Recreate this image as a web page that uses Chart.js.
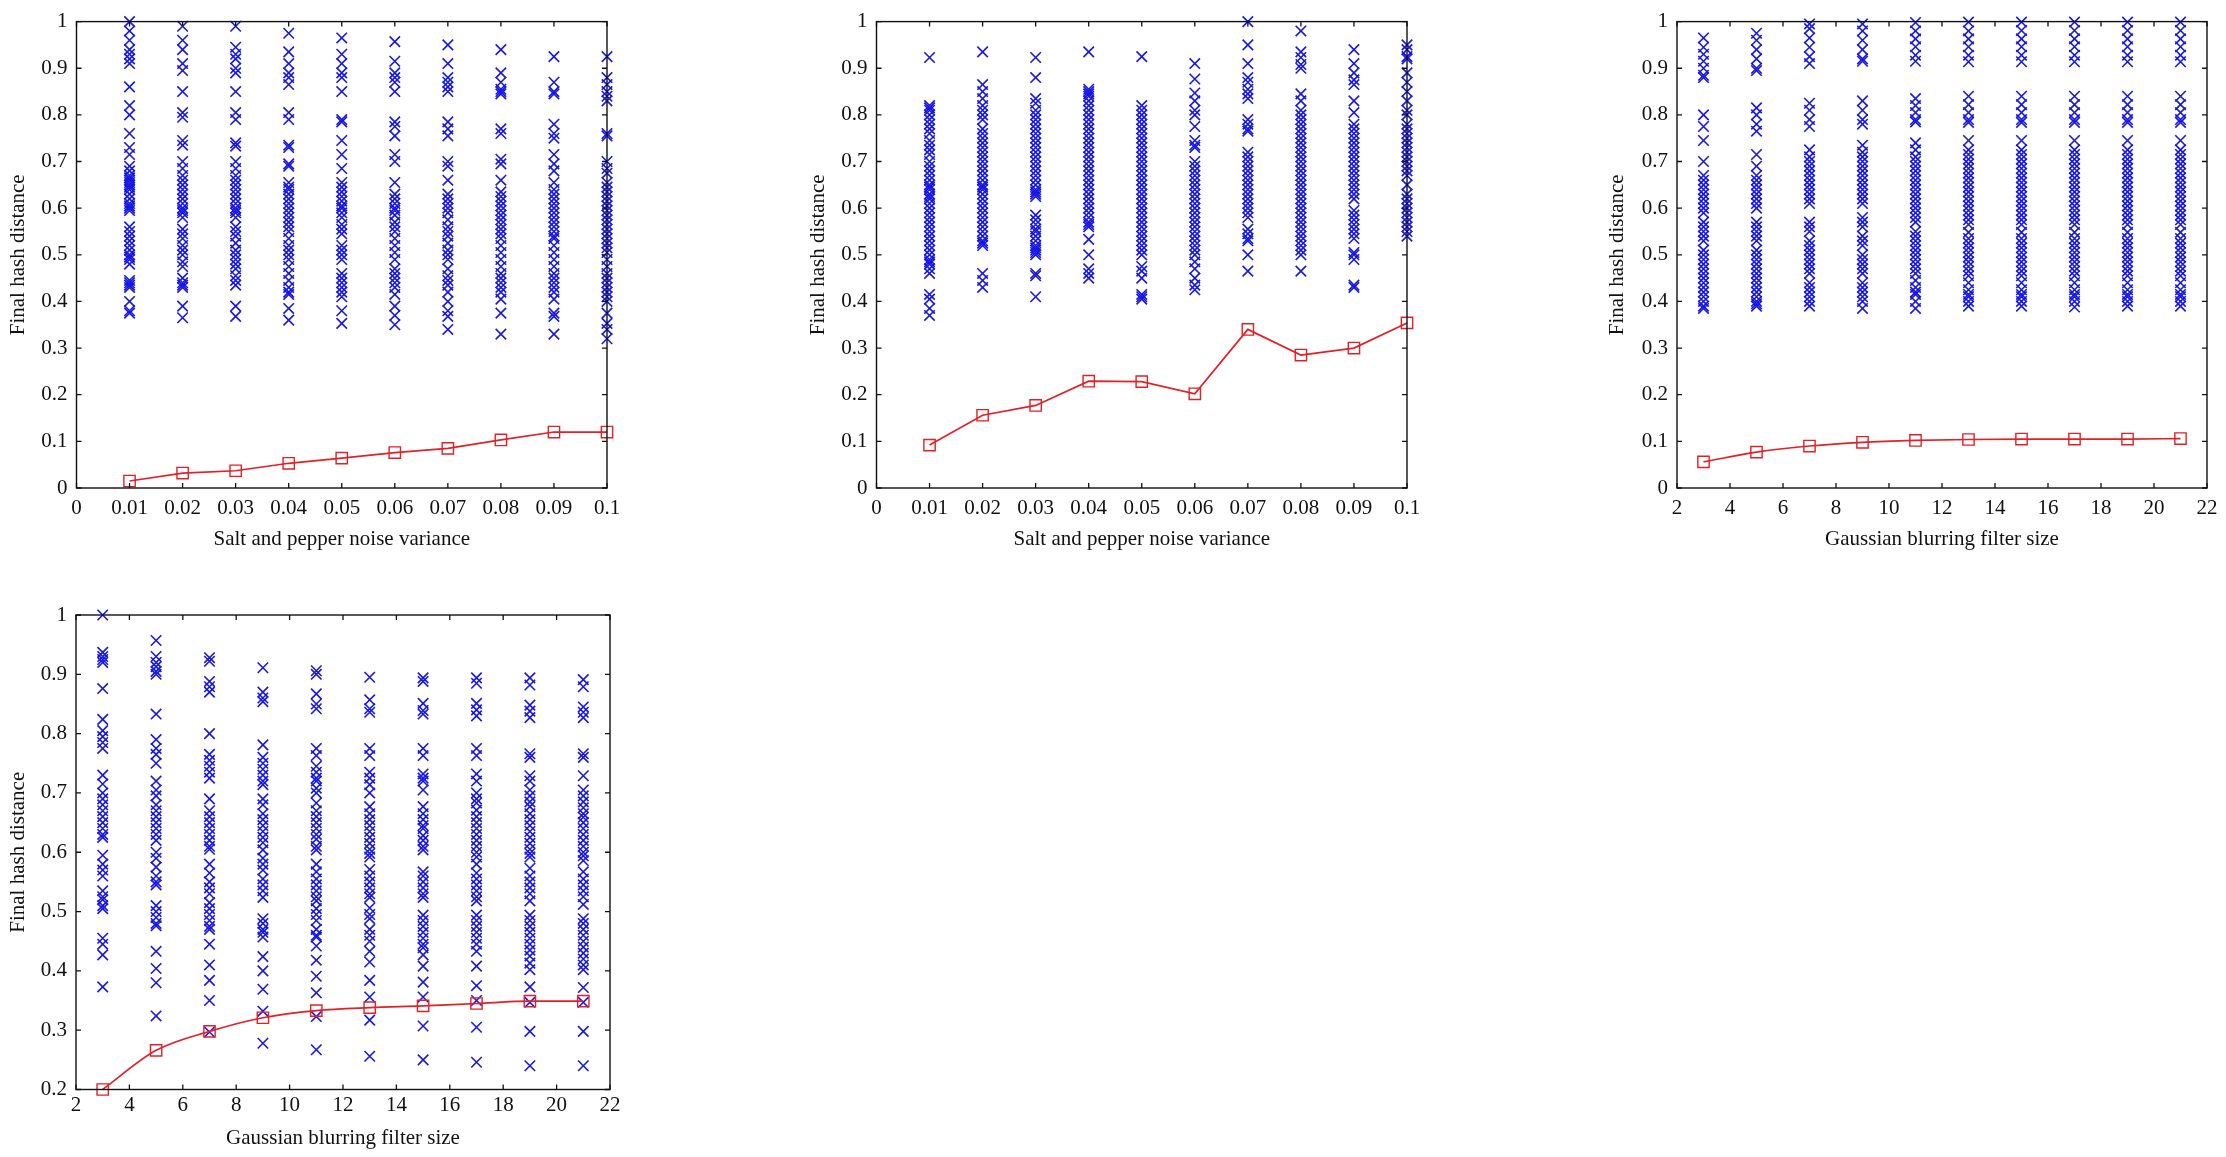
<!DOCTYPE html>
<html><head><meta charset="utf-8">
<script src="https://cdn.jsdelivr.net/npm/chart.js@4.4.1/dist/chart.umd.min.js"></script>
<style>
html,body{margin:0;padding:0;background:#fff;width:2226px;height:1157px;overflow:hidden;}
canvas{position:absolute;}
</style></head><body>
<canvas id="c1" width="640" height="575" style="left:0px;top:0px"></canvas>
<canvas id="c2" width="640" height="575" style="left:800px;top:0px"></canvas>
<canvas id="c3" width="636" height="575" style="left:1590px;top:0px"></canvas>
<canvas id="c4" width="640" height="567" style="left:0px;top:590px"></canvas>
<script>
// ---------- categories / tick labels ----------
const xNoise = [0.01,0.02,0.03,0.04,0.05,0.06,0.07,0.08,0.09,0.1];
const xBlur = [3,5,7,9,11,13,15,17,19,21];
const xNoiseTickVals = [0,0.01,0.02,0.03,0.04,0.05,0.06,0.07,0.08,0.09,0.1];
const xNoiseTickLabels = ['0','0.01','0.02','0.03','0.04','0.05','0.06','0.07','0.08','0.09','0.1'];
const xBlurTickVals = [2,4,6,8,10,12,14,16,18,20,22];
const xBlurTickLabels = ['2','4','6','8','10','12','14','16','18','20','22'];
const yTickVals0 = [0,0.1,0.2,0.3,0.4,0.5,0.6,0.7,0.8,0.9,1];
const yTickLabels0 = ['0','0.1','0.2','0.3','0.4','0.5','0.6','0.7','0.8','0.9','1'];
const yTickVals2 = [0.2,0.3,0.4,0.5,0.6,0.7,0.8,0.9,1];
const yTickLabels2 = ['0.2','0.3','0.4','0.5','0.6','0.7','0.8','0.9','1'];
const xTitleNoise = 'Salt and pepper noise variance';
const xTitleBlur = 'Gaussian blurring filter size';
const yTitle = 'Final hash distance';

// ---------- panel 1 (salt & pepper, top-left) ----------
const p1Mean = [0.015,0.032,0.037,0.053,0.064,0.076,0.085,0.103,0.12,0.12];
const p1c1 = [1.0,0.98,0.96,0.94,0.93,0.92,0.91,0.86,0.82,0.80,0.76,0.73,0.715,0.69,0.68,0.67,0.665,0.66,0.655,0.65,0.645,0.64,0.63,0.62,0.61,0.605,0.60,0.595,0.56,0.55,0.54,0.53,0.52,0.51,0.50,0.495,0.49,0.48,0.445,0.44,0.435,0.43,0.40,0.38,0.375];
const p1c2 = [0.99,0.96,0.94,0.91,0.895,0.85,0.805,0.795,0.745,0.735,0.70,0.685,0.67,0.66,0.65,0.64,0.63,0.62,0.61,0.60,0.595,0.59,0.58,0.555,0.545,0.535,0.52,0.51,0.50,0.485,0.475,0.45,0.44,0.435,0.43,0.39,0.365];
const p1c3 = [0.99,0.945,0.93,0.92,0.90,0.89,0.85,0.805,0.79,0.74,0.733,0.70,0.685,0.67,0.66,0.65,0.64,0.63,0.62,0.61,0.60,0.595,0.59,0.58,0.56,0.55,0.54,0.525,0.51,0.50,0.49,0.48,0.47,0.455,0.445,0.435,0.39,0.368];
const p1c4 = [0.975,0.935,0.91,0.89,0.88,0.865,0.805,0.79,0.735,0.73,0.695,0.69,0.655,0.645,0.64,0.63,0.62,0.61,0.60,0.59,0.58,0.57,0.56,0.55,0.535,0.52,0.51,0.50,0.49,0.475,0.46,0.445,0.43,0.42,0.415,0.385,0.36];
const p1c5 = [0.965,0.93,0.91,0.89,0.88,0.85,0.79,0.785,0.745,0.715,0.685,0.655,0.645,0.635,0.625,0.615,0.605,0.60,0.59,0.58,0.565,0.555,0.545,0.52,0.51,0.50,0.49,0.46,0.45,0.44,0.43,0.42,0.41,0.38,0.353];
const p1c6 = [0.957,0.915,0.89,0.88,0.87,0.85,0.785,0.775,0.755,0.715,0.70,0.655,0.63,0.62,0.61,0.60,0.595,0.585,0.57,0.56,0.55,0.535,0.52,0.505,0.49,0.47,0.46,0.45,0.44,0.43,0.415,0.39,0.37,0.35];
const p1c7 = [0.95,0.91,0.88,0.87,0.86,0.85,0.785,0.77,0.755,0.70,0.69,0.66,0.63,0.62,0.61,0.60,0.59,0.575,0.56,0.55,0.54,0.525,0.51,0.50,0.49,0.47,0.455,0.445,0.435,0.42,0.40,0.38,0.368,0.34];
const p1c8 = [0.94,0.89,0.87,0.855,0.85,0.845,0.77,0.76,0.705,0.695,0.66,0.635,0.625,0.615,0.605,0.595,0.585,0.575,0.565,0.555,0.545,0.535,0.52,0.505,0.49,0.475,0.46,0.45,0.44,0.43,0.42,0.405,0.375,0.33];
const p1c9 = [0.925,0.87,0.85,0.845,0.78,0.76,0.75,0.715,0.695,0.68,0.655,0.64,0.63,0.62,0.61,0.60,0.59,0.58,0.57,0.56,0.55,0.54,0.535,0.52,0.505,0.49,0.475,0.46,0.45,0.44,0.43,0.42,0.405,0.375,0.368,0.33];
const p1c10 = [0.925,0.88,0.865,0.85,0.84,0.83,0.76,0.755,0.70,0.685,0.675,0.655,0.645,0.635,0.625,0.615,0.605,0.595,0.585,0.575,0.565,0.555,0.545,0.535,0.525,0.515,0.505,0.49,0.475,0.46,0.45,0.44,0.43,0.42,0.41,0.40,0.375,0.353,0.34,0.32];

// ---------- panel 2 (salt & pepper, top-middle) ----------
const p2Mean = [0.092,0.156,0.177,0.229,0.228,0.202,0.34,0.285,0.30,0.354];
const p2c1 = [0.923,0.82,0.815,0.81,0.80,0.79,0.78,0.77,0.76,0.745,0.735,0.725,0.715,0.70,0.69,0.68,0.67,0.66,0.65,0.645,0.64,0.63,0.625,0.62,0.61,0.60,0.59,0.58,0.57,0.56,0.55,0.54,0.53,0.52,0.51,0.50,0.49,0.485,0.48,0.47,0.46,0.415,0.405,0.385,0.37];
const p2c2 = [0.935,0.865,0.85,0.835,0.82,0.81,0.80,0.79,0.77,0.76,0.75,0.74,0.73,0.72,0.71,0.70,0.69,0.68,0.67,0.66,0.65,0.645,0.64,0.63,0.62,0.61,0.60,0.59,0.58,0.57,0.56,0.55,0.54,0.53,0.525,0.52,0.46,0.445,0.43];
const p2c3 = [0.923,0.88,0.835,0.825,0.81,0.80,0.79,0.78,0.77,0.76,0.75,0.74,0.73,0.72,0.71,0.70,0.69,0.68,0.67,0.66,0.65,0.64,0.635,0.63,0.625,0.585,0.575,0.565,0.555,0.55,0.54,0.53,0.52,0.515,0.51,0.505,0.50,0.46,0.455,0.41];
const p2c4 = [0.935,0.855,0.85,0.845,0.84,0.83,0.82,0.81,0.80,0.79,0.78,0.77,0.76,0.75,0.74,0.73,0.72,0.71,0.70,0.69,0.68,0.67,0.66,0.65,0.64,0.63,0.62,0.61,0.60,0.59,0.58,0.57,0.565,0.56,0.533,0.50,0.47,0.46,0.45];
const p2c5 = [0.925,0.82,0.81,0.80,0.79,0.78,0.77,0.76,0.75,0.74,0.73,0.72,0.71,0.70,0.69,0.68,0.67,0.66,0.65,0.64,0.63,0.62,0.61,0.60,0.59,0.58,0.57,0.56,0.55,0.54,0.53,0.52,0.51,0.50,0.475,0.465,0.45,0.415,0.41,0.405];
const p2c6 = [0.91,0.877,0.847,0.83,0.81,0.80,0.775,0.745,0.735,0.73,0.70,0.69,0.68,0.67,0.66,0.65,0.64,0.63,0.62,0.61,0.60,0.59,0.58,0.57,0.56,0.55,0.54,0.53,0.52,0.51,0.50,0.485,0.47,0.45,0.435,0.425];
const p2c7 = [1.0,0.95,0.91,0.88,0.87,0.855,0.845,0.835,0.79,0.78,0.77,0.765,0.72,0.71,0.70,0.69,0.68,0.67,0.66,0.65,0.64,0.63,0.62,0.61,0.60,0.59,0.58,0.555,0.545,0.535,0.53,0.50,0.465];
const p2c8 = [0.98,0.935,0.923,0.908,0.90,0.845,0.83,0.81,0.80,0.79,0.78,0.77,0.76,0.75,0.74,0.73,0.72,0.71,0.70,0.69,0.68,0.67,0.66,0.65,0.64,0.63,0.62,0.61,0.60,0.59,0.58,0.57,0.56,0.55,0.54,0.53,0.52,0.51,0.50,0.465];
const p2c9 = [0.94,0.91,0.89,0.875,0.865,0.83,0.805,0.78,0.77,0.76,0.75,0.74,0.73,0.72,0.71,0.70,0.69,0.68,0.67,0.66,0.65,0.64,0.63,0.62,0.595,0.585,0.575,0.565,0.555,0.545,0.535,0.505,0.50,0.49,0.435,0.43];
const p2c10 = [0.95,0.94,0.925,0.92,0.89,0.87,0.85,0.83,0.81,0.80,0.78,0.77,0.76,0.75,0.74,0.73,0.72,0.71,0.70,0.69,0.68,0.67,0.65,0.63,0.62,0.61,0.60,0.59,0.58,0.57,0.56,0.55,0.54];

// ---------- panel 3 (Gaussian blur, top-right) ----------
const p3Mean = [0.056,0.077,0.09,0.098,0.102,0.104,0.105,0.105,0.105,0.106];
const p3c3 = [0.965,0.945,0.93,0.915,0.90,0.885,0.88,0.80,0.775,0.745,0.70,0.67,0.66,0.65,0.64,0.63,0.62,0.61,0.60,0.59,0.57,0.56,0.55,0.54,0.53,0.51,0.50,0.49,0.48,0.47,0.46,0.45,0.44,0.43,0.42,0.41,0.40,0.39,0.385];
const p3c5 = [0.975,0.96,0.94,0.92,0.90,0.895,0.815,0.80,0.78,0.765,0.715,0.69,0.67,0.66,0.65,0.64,0.63,0.62,0.61,0.60,0.57,0.56,0.55,0.54,0.53,0.51,0.50,0.49,0.48,0.47,0.46,0.45,0.44,0.43,0.42,0.41,0.40,0.395,0.39];
const p3c7 = [0.995,0.985,0.965,0.945,0.925,0.91,0.825,0.81,0.79,0.775,0.725,0.71,0.70,0.69,0.68,0.67,0.66,0.65,0.64,0.63,0.62,0.61,0.57,0.56,0.55,0.53,0.52,0.51,0.50,0.49,0.48,0.47,0.46,0.44,0.43,0.42,0.41,0.40,0.39];
const p3c9 = [0.995,0.98,0.96,0.94,0.92,0.915,0.83,0.81,0.79,0.78,0.735,0.72,0.71,0.70,0.69,0.68,0.67,0.66,0.65,0.64,0.63,0.62,0.61,0.58,0.57,0.56,0.54,0.53,0.52,0.50,0.49,0.48,0.47,0.46,0.44,0.43,0.42,0.41,0.40,0.385];
const p3c11 = [0.998,0.98,0.963,0.946,0.928,0.915,0.835,0.82,0.805,0.79,0.785,0.74,0.725,0.71,0.70,0.69,0.68,0.67,0.66,0.65,0.64,0.63,0.62,0.61,0.60,0.59,0.58,0.57,0.55,0.54,0.53,0.52,0.51,0.50,0.49,0.48,0.47,0.46,0.445,0.43,0.42,0.415,0.40,0.385];
const p3c13 = [0.999,0.98,0.963,0.946,0.928,0.914,0.84,0.822,0.805,0.79,0.784,0.745,0.725,0.715,0.705,0.695,0.685,0.675,0.665,0.655,0.645,0.635,0.625,0.615,0.605,0.595,0.585,0.575,0.565,0.548,0.535,0.525,0.515,0.505,0.495,0.485,0.475,0.465,0.455,0.44,0.425,0.415,0.41,0.40,0.39];
const p3c15 = [0.999,0.981,0.963,0.946,0.928,0.914,0.84,0.822,0.805,0.79,0.784,0.745,0.725,0.715,0.705,0.695,0.685,0.675,0.665,0.655,0.645,0.635,0.625,0.615,0.605,0.595,0.585,0.575,0.565,0.548,0.535,0.525,0.515,0.505,0.495,0.485,0.475,0.465,0.455,0.44,0.425,0.415,0.41,0.40,0.39];
const p3c17 = [0.999,0.981,0.963,0.946,0.928,0.914,0.84,0.822,0.805,0.79,0.784,0.745,0.725,0.715,0.705,0.695,0.685,0.675,0.665,0.655,0.645,0.635,0.625,0.615,0.605,0.595,0.585,0.575,0.565,0.548,0.535,0.525,0.515,0.505,0.495,0.485,0.475,0.465,0.455,0.44,0.425,0.415,0.41,0.40,0.388];
const p3c19 = [0.999,0.981,0.963,0.946,0.928,0.914,0.84,0.822,0.805,0.79,0.784,0.745,0.725,0.715,0.705,0.695,0.685,0.675,0.665,0.655,0.645,0.635,0.625,0.615,0.605,0.595,0.585,0.575,0.565,0.548,0.535,0.525,0.515,0.505,0.495,0.485,0.475,0.465,0.455,0.44,0.425,0.415,0.41,0.40,0.39];
const p3c21 = [0.999,0.981,0.963,0.946,0.928,0.914,0.84,0.822,0.805,0.79,0.784,0.745,0.725,0.715,0.705,0.695,0.685,0.675,0.665,0.655,0.645,0.635,0.625,0.615,0.605,0.595,0.585,0.575,0.565,0.548,0.535,0.525,0.515,0.505,0.495,0.485,0.475,0.465,0.455,0.44,0.425,0.415,0.41,0.40,0.39];

// ---------- panel 4 (Gaussian blur, bottom-left) ----------
const p4Mean = [0.20,0.266,0.298,0.321,0.333,0.338,0.341,0.345,0.349,0.349];
const p4c3 = [1.0,0.937,0.93,0.925,0.92,0.876,0.824,0.805,0.795,0.785,0.775,0.73,0.715,0.70,0.69,0.68,0.67,0.66,0.65,0.64,0.63,0.625,0.595,0.58,0.57,0.56,0.535,0.525,0.52,0.51,0.505,0.455,0.445,0.427,0.373];
const p4c5 = [0.957,0.93,0.92,0.913,0.905,0.90,0.833,0.79,0.775,0.765,0.75,0.72,0.705,0.695,0.68,0.67,0.66,0.65,0.64,0.63,0.62,0.60,0.59,0.575,0.56,0.55,0.545,0.51,0.50,0.49,0.48,0.476,0.433,0.404,0.38,0.324];
const p4c7 = [0.928,0.922,0.888,0.879,0.87,0.80,0.765,0.755,0.745,0.735,0.725,0.69,0.67,0.66,0.65,0.64,0.63,0.62,0.61,0.605,0.58,0.565,0.55,0.54,0.53,0.515,0.505,0.495,0.485,0.475,0.47,0.445,0.41,0.384,0.35,0.297];
const p4c9 = [0.911,0.87,0.86,0.854,0.781,0.76,0.75,0.74,0.73,0.72,0.714,0.69,0.68,0.665,0.655,0.645,0.635,0.625,0.616,0.604,0.59,0.58,0.57,0.555,0.545,0.535,0.524,0.488,0.48,0.47,0.465,0.457,0.424,0.40,0.369,0.332,0.278];
const p4c11 = [0.906,0.90,0.867,0.85,0.842,0.775,0.763,0.745,0.735,0.725,0.72,0.708,0.70,0.683,0.67,0.66,0.65,0.64,0.63,0.622,0.61,0.604,0.58,0.567,0.555,0.545,0.535,0.525,0.518,0.505,0.495,0.485,0.47,0.46,0.457,0.442,0.418,0.391,0.363,0.323,0.267];
const p4c13 = [0.895,0.857,0.842,0.836,0.775,0.763,0.735,0.725,0.714,0.70,0.677,0.665,0.655,0.645,0.635,0.625,0.615,0.605,0.598,0.592,0.571,0.56,0.55,0.54,0.53,0.524,0.506,0.495,0.488,0.47,0.46,0.45,0.433,0.415,0.384,0.356,0.317,0.256];
const p4c15 = [0.894,0.888,0.851,0.839,0.833,0.775,0.763,0.732,0.725,0.72,0.705,0.677,0.665,0.655,0.645,0.64,0.628,0.62,0.61,0.604,0.567,0.56,0.55,0.54,0.53,0.524,0.494,0.485,0.475,0.465,0.455,0.445,0.439,0.427,0.408,0.381,0.356,0.307,0.25];
const p4c17 = [0.894,0.885,0.851,0.84,0.83,0.775,0.763,0.732,0.72,0.70,0.69,0.683,0.671,0.66,0.65,0.64,0.63,0.62,0.61,0.60,0.592,0.58,0.565,0.555,0.545,0.535,0.525,0.518,0.494,0.485,0.475,0.465,0.455,0.445,0.433,0.408,0.375,0.35,0.305,0.246];
const p4c19 = [0.894,0.882,0.848,0.838,0.827,0.766,0.76,0.729,0.72,0.705,0.695,0.685,0.677,0.665,0.655,0.645,0.635,0.625,0.615,0.605,0.598,0.592,0.573,0.56,0.55,0.54,0.53,0.518,0.494,0.485,0.475,0.465,0.455,0.445,0.435,0.425,0.413,0.402,0.373,0.347,0.298,0.24];
const p4c21 = [0.891,0.879,0.845,0.836,0.827,0.766,0.76,0.729,0.705,0.695,0.685,0.675,0.665,0.659,0.65,0.64,0.63,0.62,0.61,0.60,0.594,0.586,0.567,0.555,0.545,0.535,0.525,0.512,0.488,0.48,0.47,0.46,0.45,0.44,0.43,0.42,0.41,0.402,0.372,0.347,0.298,0.24];

// ---------- helpers ----------
const FONT = "'Liberation Serif', 'DejaVu Serif', serif";
const FS = 21;
const BLUE = 'rgb(24,24,226)';
const RED = 'rgb(226,32,38)';
function scatterData(xs, cols){ const out=[]; xs.forEach((x,i)=>cols[i].forEach(y=>out.push({x:x,y:y}))); return out; }
function lineData(xs, ys){ return xs.map((x,i)=>({x:x,y:ys[i]})); }

const frameTicks = {
  id:'frameTicks',
  afterDatasetsDraw(chart){
    const {ctx, chartArea:a} = chart; const x = chart.scales.x, y = chart.scales.y;
    ctx.save();
    ctx.strokeStyle='#111'; ctx.lineWidth=1.4;
    ctx.strokeRect(a.left, a.top, a.right-a.left, a.bottom-a.top);
    ctx.lineWidth=1.3; ctx.beginPath();
    x.ticks.forEach(t=>{const p=x.getPixelForValue(t.value); ctx.moveTo(p,a.bottom); ctx.lineTo(p,a.bottom-5); ctx.moveTo(p,a.top); ctx.lineTo(p,a.top+5);});
    y.ticks.forEach(t=>{const p=y.getPixelForValue(t.value); ctx.moveTo(a.left,p); ctx.lineTo(a.left+5,p); ctx.moveTo(a.right,p); ctx.lineTo(a.right-5,p);});
    ctx.stroke(); ctx.restore();
  }
};

function makePanel(id, o){
  new Chart(document.getElementById(id), {
    type:'scatter',
    data:{datasets:[
      {data:lineData(o.xs,o.mean), showLine:true, order:0, clip:false,
       borderColor:RED, borderWidth:1.7, pointStyle:'rect', pointRadius:8,
       pointBorderColor:RED, pointBackgroundColor:'rgba(0,0,0,0)', pointBorderWidth:1.4,
       tension:0, cubicInterpolationMode: o.smooth ? 'monotone' : 'default'},
      {data:scatterData(o.xs,o.cols), showLine:false, order:1, clip:false,
       pointStyle:'crossRot', pointRadius:7.4, pointBorderColor:BLUE, borderColor:BLUE,
       pointBorderWidth:1.6, pointBackgroundColor:BLUE}
    ]},
    options:{
      responsive:false, animation:false, events:[], devicePixelRatio:1,
      layout:{padding:{top:o.padTop, right:o.padRight, left:0, bottom:0}},
      plugins:{legend:{display:false}, tooltip:{enabled:false}},
      scales:{
        x:{type:'linear', min:o.xMin, max:o.xMax,
           grid:{display:false, drawTicks:false}, border:{display:false},
           afterBuildTicks:s=>{s.ticks=o.xTickVals.map(v=>({value:v}));},
           afterFit:s=>{s.height=o.xH;},
           ticks:{padding:o.xTickPad, color:'#111', font:{family:FONT,size:FS}, maxRotation:0, autoSkip:false,
                  callback:(v,i)=>o.xTickLabels[i]},
           title:{display:true, text:o.xTitle, color:'#111', font:{family:FONT,size:FS}, padding:{top:0,bottom:o.xTitlePad}}},
        y:{type:'linear', min:o.yMin, max:1,
           grid:{display:false, drawTicks:false}, border:{display:false},
           afterBuildTicks:s=>{s.ticks=o.yTickVals.map(v=>({value:v}));},
           afterFit:s=>{s.width=o.yW;},
           ticks:{padding:9, color:'#111', font:{family:FONT,size:FS}, autoSkip:false,
                  callback:(v,i)=>o.yTickLabels[i]},
           title:{display:true, text:yTitle, color:'#111', font:{family:FONT,size:FS}, padding:{top:o.yTitlePad,bottom:0}}}
      }
    },
    plugins:[frameTicks]
  });
}

makePanel('c1', {xs:xNoise, mean:p1Mean, cols:[p1c1,p1c2,p1c3,p1c4,p1c5,p1c6,p1c7,p1c8,p1c9,p1c10],
  xMin:0, xMax:0.1, xTickVals:xNoiseTickVals, xTickLabels:xNoiseTickLabels, xTitle:xTitleNoise,
  yMin:0, yTickVals:yTickVals0, yTickLabels:yTickLabels0,
  padTop:15, padRight:33, yW:76.5, xH:87, xTickPad:8, xTitlePad:23, yTitlePad:6, smooth:false});
makePanel('c2', {xs:xNoise, mean:p2Mean, cols:[p2c1,p2c2,p2c3,p2c4,p2c5,p2c6,p2c7,p2c8,p2c9,p2c10],
  xMin:0, xMax:0.1, xTickVals:xNoiseTickVals, xTickLabels:xNoiseTickLabels, xTitle:xTitleNoise,
  yMin:0, yTickVals:yTickVals0, yTickLabels:yTickLabels0,
  padTop:15, padRight:33, yW:76.5, xH:87, xTickPad:8, xTitlePad:23, yTitlePad:6, smooth:false});
makePanel('c3', {xs:xBlur, mean:p3Mean, cols:[p3c3,p3c5,p3c7,p3c9,p3c11,p3c13,p3c15,p3c17,p3c19,p3c21],
  xMin:2, xMax:22, xTickVals:xBlurTickVals, xTickLabels:xBlurTickLabels, xTitle:xTitleBlur,
  yMin:0, yTickVals:yTickVals0, yTickLabels:yTickLabels0,
  padTop:16, padRight:19, yW:87, xH:87, xTickPad:8, xTitlePad:23, yTitlePad:15, smooth:true});
makePanel('c4', {xs:xBlur, mean:p4Mean, cols:[p4c3,p4c5,p4c7,p4c9,p4c11,p4c13,p4c15,p4c17,p4c19,p4c21],
  xMin:2, xMax:22, xTickVals:xBlurTickVals, xTickLabels:xBlurTickLabels, xTitle:xTitleBlur,
  yMin:0.2, yTickVals:yTickVals2, yTickLabels:yTickLabels2,
  padTop:25, padRight:30, yW:76, xH:67.5, xTickPad:3, xTitlePad:6, yTitlePad:6, smooth:true});
</script>
</body></html>
